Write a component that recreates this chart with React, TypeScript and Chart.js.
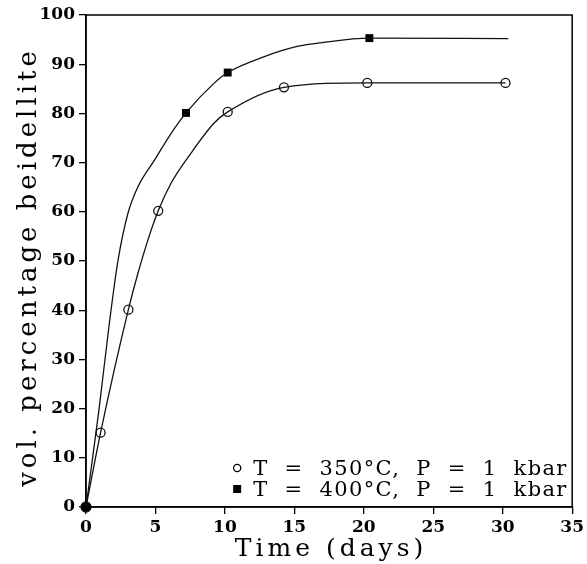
import { useEffect, useRef } from "react";
import { Chart, registerables } from "chart.js";

Chart.register(...registerables);

// 350 °C, 1 kbar (open circles) — measured points
const days350 = [0, 1.05, 3.05, 5.2, 10.2, 14.25, 20.25, 30.2];
const pct350 = [0, 15.1, 40.1, 60.2, 80.3, 85.3, 86.2, 86.2];

// fitted curve for 350 °C
const curveDays350 = [0, 1.05, 3.05, 3.74, 4.45, 5.2, 6.12, 7.55, 9.21, 10.2, 14.25, 20.25, 30.2];
const curvePct350 = [0, 15.1, 40.1, 47.5, 54.2, 60.2, 65.8, 71.9, 78.0, 80.3, 85.3, 86.2, 86.2];

// 400 °C, 1 kbar (filled squares) — measured points
const days400 = [0, 7.2, 10.2, 20.4];
const pct400 = [0, 80.1, 88.3, 95.3];

// fitted curve for 400 °C
const curveDays400 = [0, 0.93, 1.71, 2.31, 3.02, 3.74, 4.93, 6.12, 7.2, 9.21, 10.2, 12.8, 15.2, 17.0, 20.4, 30.4];
const curvePct400 = [0, 19.7, 38.0, 50.2, 59.7, 65.1, 70.5, 75.9, 80.1, 86.1, 88.3, 91.5, 93.6, 94.4, 95.3, 95.2];

const xTicks = [0, 5, 10, 15, 20, 25, 30, 35];
const yTicks = [0, 10, 20, 30, 40, 50, 60, 70, 80, 90, 100];

const xTitle = "Time (days)";
const yTitle = "vol. percentage beidellite";
const legend350 = "T  =  350°C,  P  =  1  kbar";
const legend400 = "T  =  400°C,  P  =  1  kbar";

const toXY = (xs: number[], ys: number[]) => xs.map((x, i) => ({ x, y: ys[i] }));

const decorPlugin = {
  id: "decor",
  afterDraw(chart: any) {
    const { ctx, chartArea: a } = chart;
    ctx.save();
    // full frame
    ctx.strokeStyle = "#000";
    ctx.lineWidth = 1.5;
    ctx.strokeRect(a.left, a.top, a.right - a.left, a.bottom - a.top);

    ctx.fillStyle = "#000";
    // x title
    ctx.font = '25px "DejaVu Serif"';
    (ctx as any).letterSpacing = "4px";
    ctx.textAlign = "center";
    ctx.textBaseline = "alphabetic";
    ctx.fillText(xTitle, (a.left + a.right) / 2 + 2, a.bottom + 49);

    // y title
    ctx.save();
    ctx.translate(36, (a.top + a.bottom) / 2 + 6);
    ctx.rotate(-Math.PI / 2);
    ctx.font = '26px "DejaVu Serif"';
    (ctx as any).letterSpacing = "4px";
    ctx.fillText(yTitle, 0, 0);
    ctx.restore();

    // legend
    const mx = a.right - 335;
    const tx = a.right - 319;
    const b1 = a.bottom - 32;
    const b2 = a.bottom - 11;
    ctx.font = '21px "DejaVu Serif"';
    (ctx as any).letterSpacing = "1.35px";
    ctx.textAlign = "left";
    ctx.fillText(legend350, tx, b1);
    ctx.fillText(legend400, tx, b2);
    ctx.beginPath();
    ctx.lineWidth = 1.3;
    ctx.fillStyle = "#fff";
    ctx.arc(mx, b1 - 7, 3.6, 0, Math.PI * 2);
    ctx.fill();
    ctx.stroke();
    ctx.fillStyle = "#000";
    ctx.fillRect(mx - 4, b2 - 11, 8, 8);
    ctx.restore();
  },
};

export default function App() {
  const ref = useRef<HTMLCanvasElement>(null);

  useEffect(() => {
    document.body.style.margin = "0";
    const canvas = ref.current;
    if (!canvas) return;
    const chart = new Chart(canvas, {
      type: "scatter",
      data: {
        datasets: [
          {
            label: "400 curve",
            data: toXY(curveDays400, curvePct400),
            showLine: true,
            borderColor: "#111",
            borderWidth: 1.3,
            pointRadius: 0,
            cubicInterpolationMode: "monotone",
          },
          {
            label: "350 curve",
            data: toXY(curveDays350, curvePct350),
            showLine: true,
            borderColor: "#111",
            borderWidth: 1.3,
            pointRadius: 0,
            cubicInterpolationMode: "monotone",
          },
          {
            label: "T = 350°C, P = 1 kbar",
            data: toXY(days350, pct350),
            showLine: false,
            clip: false,
            pointStyle: "circle",
            pointRadius: (c: any) => (c.raw && c.raw.x === 0 ? 5 : 4.5),
            pointBackgroundColor: (c: any) => (c.raw && c.raw.x === 0 ? "#000" : "#fff"),
            pointBorderColor: "#111",
            pointBorderWidth: 1.3,
          },
          {
            label: "T = 400°C, P = 1 kbar",
            data: toXY(days400.slice(1), pct400.slice(1)),
            showLine: false,
            clip: false,
            pointStyle: "rect",
            pointRadius: 5.6,
            pointBackgroundColor: "#000",
            pointBorderColor: "#000",
            pointBorderWidth: 0,
          },
        ],
      },
      options: {
        responsive: false,
        animation: false,
        layout: { padding: { top: 15, right: 10, bottom: 0, left: 0 } },
        plugins: { legend: { display: false }, tooltip: { enabled: false } },
        scales: {
          x: {
            type: "linear",
            min: 0,
            max: 35,
            afterBuildTicks: (s: any) => {
              s.ticks = xTicks.map((v) => ({ value: v }));
            },
            afterFit: (s: any) => {
              s.height = 57;
            },
            grid: { drawOnChartArea: false, drawTicks: true, tickLength: 7, color: "#000", lineWidth: 1.3 },
            border: { display: true, color: "#000", width: 1.5 },
            ticks: {
              color: "#000",
              padding: 3,
              maxRotation: 0,
              font: { family: '"DejaVu Serif"', size: 17, weight: "bold" },
            },
          },
          y: {
            type: "linear",
            min: 0,
            max: 100,
            afterBuildTicks: (s: any) => {
              s.ticks = yTicks.map((v) => ({ value: v }));
            },
            afterFit: (s: any) => {
              s.width = 86;
            },
            grid: { drawOnChartArea: false, drawTicks: true, tickLength: 7, color: "#000", lineWidth: 1.3 },
            border: { display: true, color: "#000", width: 1.5 },
            ticks: {
              color: "#000",
              padding: 4,
              font: { family: '"DejaVu Serif"', size: 17, weight: "bold" },
            },
          },
        },
      },
      plugins: [decorPlugin],
    } as any);
    return () => chart.destroy();
  }, []);

  return <canvas ref={ref} width={587} height={564} style={{ display: "block", width: 587, height: 564 }} />;
}
